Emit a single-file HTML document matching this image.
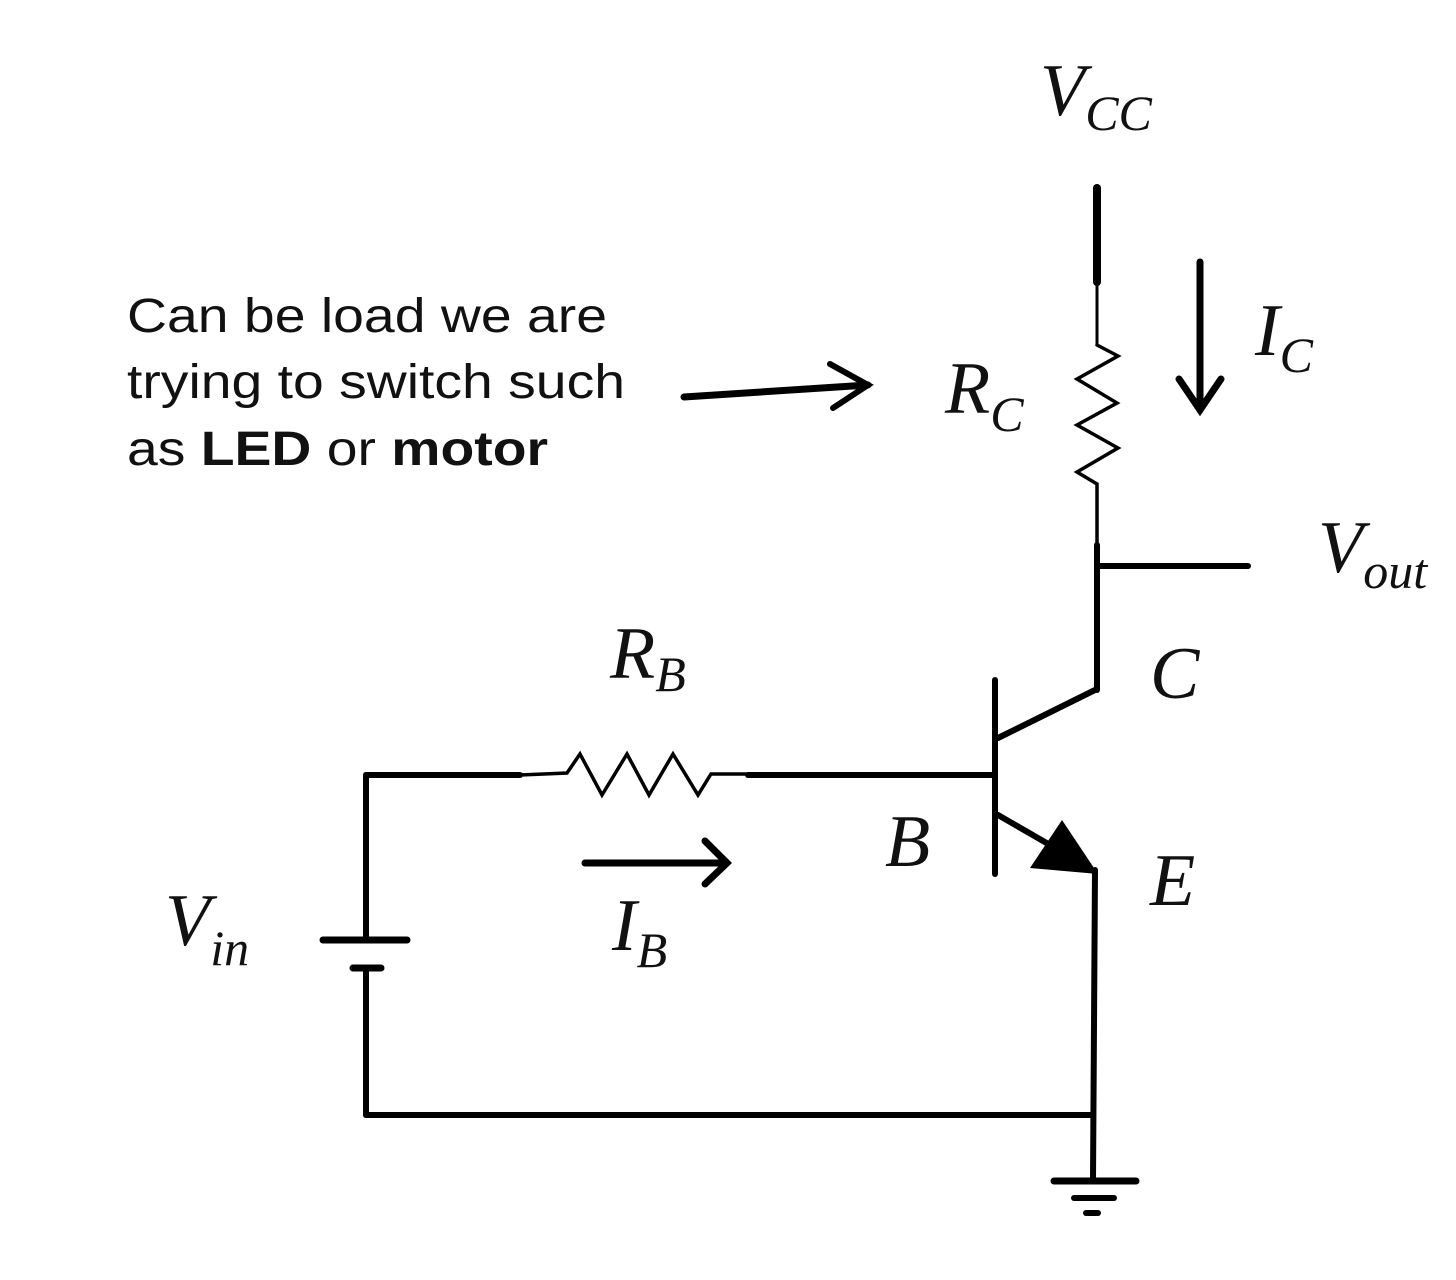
<!DOCTYPE html>
<html><head><meta charset="utf-8"><style>
html,body{margin:0;padding:0;background:#fff;}
svg{display:block;}
.s{font-family:"Liberation Sans",sans-serif;font-size:48px;fill:#111;}
.m{font-family:"Liberation Serif",serif;font-style:italic;fill:#111;}
</style></head><body>
<svg width="1456" height="1280" viewBox="0 0 1456 1280" xmlns="http://www.w3.org/2000/svg">
<g stroke="#000" fill="none" stroke-linecap="round" stroke-linejoin="miter">
<!-- Vcc wire -->
<line x1="1097" y1="188" x2="1097" y2="282" stroke-width="8"/>
<line x1="1097" y1="282" x2="1097" y2="345" stroke-width="3"/>
<polyline points="1097,345 1118,356 1077,379 1117,403 1077,425 1118,448 1077,472 1097,484 1097,545" stroke-width="3.5"/>
<line x1="1097" y1="545" x2="1097" y2="690" stroke-width="6"/>
<line x1="1097" y1="566" x2="1248" y2="566" stroke-width="6"/>
<!-- Ic arrow -->
<line x1="1200" y1="262" x2="1200" y2="410" stroke-width="7"/>
<polyline points="1179,379 1200,410 1221,379" stroke-width="7"/>
<!-- annotation arrow -->
<line x1="684" y1="397" x2="868" y2="385" stroke-width="7"/>
<polyline points="830,364 868,385 833,408" stroke-width="6"/>
<!-- transistor -->
<line x1="995" y1="680" x2="995" y2="874" stroke-width="6"/>
<line x1="998" y1="738" x2="1095" y2="690" stroke-width="6"/>
<line x1="998" y1="815" x2="1050" y2="845" stroke-width="6"/>
<line x1="1095" y1="870" x2="1093" y2="1180" stroke-width="6"/>
<!-- base wire -->
<line x1="366" y1="775" x2="520" y2="775" stroke-width="6"/>
<polyline points="520,775 567,773 580,754 602,795 627,754 649,795 673,754 698,795 711,774 748,774" stroke-width="3.5"/>
<line x1="748" y1="775" x2="995" y2="775" stroke-width="6"/>
<!-- battery loop -->
<line x1="366" y1="775" x2="366" y2="940" stroke-width="6"/>
<line x1="323" y1="940" x2="407" y2="940" stroke-width="7"/>
<line x1="353" y1="968" x2="381" y2="968" stroke-width="7"/>
<line x1="366" y1="968" x2="366" y2="1115" stroke-width="6"/>
<line x1="366" y1="1115" x2="1093" y2="1115" stroke-width="6"/>
<!-- ground -->
<line x1="1054" y1="1181" x2="1136" y2="1181" stroke-width="7"/>
<line x1="1074" y1="1198" x2="1114" y2="1198" stroke-width="6"/>
<line x1="1086" y1="1213" x2="1098" y2="1213" stroke-width="6"/>
<!-- Ib arrow -->
<line x1="585" y1="863" x2="726" y2="863" stroke-width="7"/>
<polyline points="705,841 727,863 705,884" stroke-width="7"/>
</g>
<polygon points="1030,868 1098,874 1062,820" fill="#000"/>
<text class="s" x="127" y="332" textLength="480" lengthAdjust="spacingAndGlyphs">Can be load we are</text>
<text class="s" x="127" y="398" textLength="498" lengthAdjust="spacingAndGlyphs">trying to switch such</text>
<text class="s" x="127" y="465" textLength="421" lengthAdjust="spacingAndGlyphs">as <tspan font-weight="bold">LED</tspan> or <tspan font-weight="bold">motor</tspan></text>
<text class="m" x="1040" y="115" font-size="74">V<tspan font-size="50" dy="15">CC</tspan></text>
<text class="m" x="945" y="413" font-size="74">R<tspan font-size="50" dy="18">C</tspan></text>
<text class="m" x="1255" y="355" font-size="74">I<tspan font-size="50" dy="17">C</tspan></text>
<text class="m" x="1318" y="572" font-size="74">V<tspan font-size="50" dy="16">out</tspan></text>
<text class="m" x="610" y="678" font-size="74">R<tspan font-size="50" dy="13">B</tspan></text>
<text class="m" x="1150" y="698" font-size="74">C</text>
<text class="m" x="885" y="866" font-size="74">B</text>
<text class="m" x="1150" y="905" font-size="74">E</text>
<text class="m" x="165" y="945" font-size="74">V<tspan font-size="50" dy="20">in</tspan></text>
<text class="m" x="612" y="950" font-size="74">I<tspan font-size="50" dy="17">B</tspan></text>
</svg>
</body></html>
